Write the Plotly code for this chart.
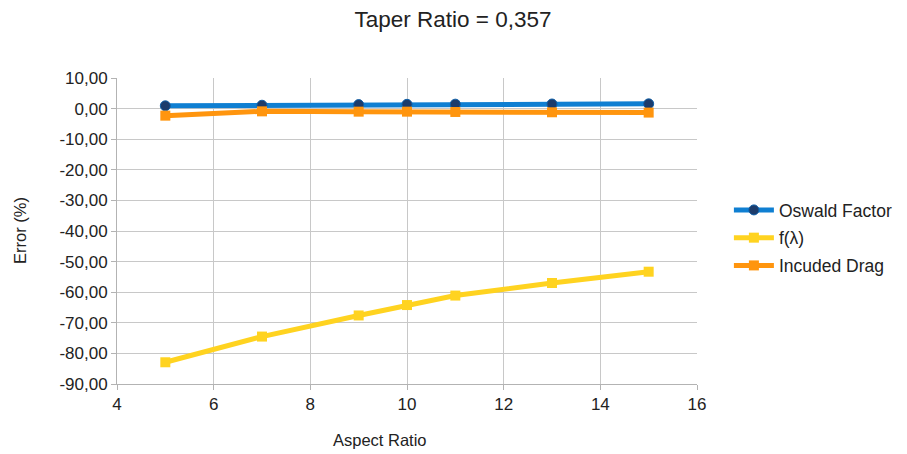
import plotly.graph_objects as go

aspect_ratio = [5, 7, 9, 10, 11, 13, 15]
oswald_factor = [0.9, 1.1, 1.3, 1.4, 1.45, 1.5, 1.55]
f_lambda = [-82.9, -74.5, -67.6, -64.2, -61.1, -57.0, -53.3]
induced_drag = [-2.3, -0.9, -1.0, -1.0, -1.1, -1.2, -1.3]

y_tick_vals = [10, 0, -10, -20, -30, -40, -50, -60, -70, -80, -90]
y_tick_labels = ["10,00", "0,00", "-10,00", "-20,00", "-30,00", "-40,00",
                 "-50,00", "-60,00", "-70,00", "-80,00", "-90,00"]
x_tick_vals = [4, 6, 8, 10, 12, 14, 16]

FONT = "Liberation Sans, Arial, sans-serif"
TXT = "#222"

fig = go.Figure()
fig.add_trace(go.Scatter(
    x=aspect_ratio, y=oswald_factor, name="Oswald Factor", mode="lines+markers",
    legendgroup="a",
    line=dict(color="#0f7fd2", width=5),
    marker=dict(color="#1d3c6b", size=10, line=dict(color="#0f5fa8", width=1)),
))
fig.add_trace(go.Scatter(
    x=aspect_ratio, y=f_lambda, name="f(λ)", mode="lines+markers",
    legendgroup="b",
    line=dict(color="#ffd320", width=5),
    marker=dict(color="#ffd320", size=10, symbol="square"),
))
fig.add_trace(go.Scatter(
    x=aspect_ratio, y=induced_drag, name="Incuded Drag", mode="lines+markers",
    legendgroup="c",
    line=dict(color="#ff950e", width=5),
    marker=dict(color="#ff950e", size=10, symbol="square"),
))

fig.update_layout(
    width=907, height=454,
    margin=dict(l=109, r=218, t=70, b=78),
    paper_bgcolor="white", plot_bgcolor="white",
    font=dict(family=FONT, size=17, color=TXT),
    title=dict(text="Taper Ratio = 0,357", x=0.4906, xref="container", xanchor="center",
               y=0.9747, yref="container", yanchor="middle",
               font=dict(family=FONT, size=22.5, color=TXT)),
    legend=dict(x=1.055, xanchor="left", y=0.477, yanchor="middle",
                font=dict(family=FONT, size=17.5, color=TXT),
                tracegroupgap=2, itemwidth=40),
    showlegend=True,
    annotations=[
        dict(text="Aspect Ratio", xref="paper", yref="paper",
             x=0.4534, y=0, yshift=-56, xanchor="center", yanchor="middle",
             showarrow=False, font=dict(family=FONT, size=16.5, color=TXT)),
        dict(text="Error (%)", xref="paper", yref="paper", textangle=-90,
             x=0, xshift=-97, y=0.5, xanchor="center", yanchor="middle",
             showarrow=False, font=dict(family=FONT, size=16.5, color=TXT)),
    ],
)
fig.update_xaxes(
    range=[4, 16], tickvals=x_tick_vals, ticktext=[str(v) for v in x_tick_vals],
    showgrid=True, gridcolor="#c8c8c8", gridwidth=1,
    showline=True, linecolor="#b3b3b3", linewidth=1,
    ticks="outside", ticklen=5, tickcolor="#b3b3b3",
    zeroline=False, automargin=False,
    tickfont=dict(family=FONT, size=17, color=TXT),
)
fig.update_yaxes(
    range=[-90, 10], tickvals=y_tick_vals, ticktext=y_tick_labels,
    showgrid=True, gridcolor="#c8c8c8", gridwidth=1,
    showline=True, linecolor="#b3b3b3", linewidth=1,
    ticks="outside", ticklen=5, tickcolor="#b3b3b3",
    zeroline=False, automargin=False,
    tickfont=dict(family=FONT, size=17, color=TXT),
)

fig.write_html("out.html")
